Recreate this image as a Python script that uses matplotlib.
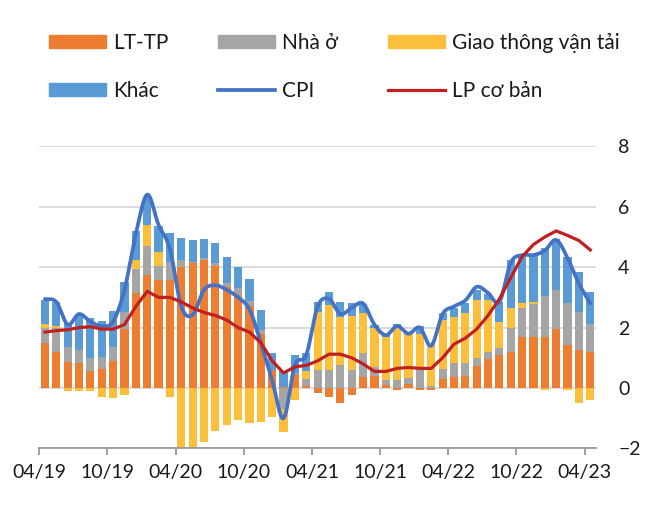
import numpy as np
import matplotlib
matplotlib.use('Agg')
import matplotlib.pyplot as plt
from matplotlib.patches import Patch
from matplotlib.lines import Line2D

plt.rcParams['font.family'] = ['Lato', 'Noto Sans', 'DejaVu Sans']

# monthly data 04/19 .. 04/23 (49 months), contributions to CPI (pp)
tick_labels = ['04/19', '10/19', '04/20', '10/20', '04/21',
               '10/21', '04/22', '10/22', '04/23']

lt_tp = [1.50, 1.18, 0.87, 0.82, 0.57, 0.62, 0.90, 1.97, 3.14, 3.75,
         3.56, 3.58, 4.00, 4.13, 4.24, 4.04, 3.36, 3.08, 2.70, 1.79,
         0.60, 0.05, 0.45, 0.07, -0.18, -0.31, -0.49, -0.23, 0.37, 0.40,
         0.10, -0.08, 0.13, -0.08, -0.08, 0.29, 0.35, 0.40, 0.73, 0.95,
         1.09, 1.18, 1.68, 1.68, 1.68, 1.96, 1.41, 1.26, 1.18]
nha_o = [0.50, 0.80, 0.50, 0.44, 0.41, 0.42, 0.47, 0.55, 0.80, 0.94,
         0.49, 0.60, 0.24, 0.05, 0.05, 0.10, 0.11, 0.22, 0.17, 0.13,
         0.00, -0.70, 0.05, 0.22, 0.60, 0.60, 0.76, 0.60, 0.80, 0.29,
         0.15, 0.28, 0.20, 0.60, 0.08, 0.33, 0.49, 0.42, 0.25, 0.23,
         0.22, 0.82, 0.96, 1.10, 1.35, 1.29, 1.41, 1.24, 0.94]
giao_thong = [0.13, 0.08, -0.10, -0.10, -0.10, -0.29, -0.32, -0.22, 0.31, 0.72,
              0.44, -0.28, -2.25, -2.50, -1.78, -1.41, -1.23, -1.06, -1.17, -1.12,
              -0.95, -0.75, -0.40, 0.29, 1.93, 2.15, 1.60, 1.77, 1.30, 1.29,
              1.45, 1.70, 1.45, 1.20, 1.40, 1.63, 1.52, 1.66, 1.93, 1.73,
              0.88, 0.66, 0.19, 0.08, -0.08, 0.00, -0.08, -0.49, -0.40]
khac = [0.77, 0.80, 0.77, 1.16, 1.33, 1.19, 1.19, 1.00, 0.94, 0.90,
        0.86, 0.95, 0.72, 0.72, 0.65, 0.65, 0.86, 0.70, 0.74, 0.66,
        0.55, 0.50, 0.60, 0.57, 0.33, 0.44, 0.50, 0.44, 0.30, 0.10,
        0.05, 0.15, 0.05, 0.25, 0.00, 0.22, 0.28, 0.35, 0.33, 0.20,
        0.66, 1.58, 1.58, 1.50, 1.60, 1.68, 1.50, 1.33, 1.07]
cpi = [2.95, 2.85, 2.10, 2.45, 2.20, 2.05, 2.20, 3.25, 5.10, 6.40,
       5.40, 4.60, 2.70, 2.42, 3.25, 3.40, 3.25, 3.00, 2.60, 1.50,
       0.25, -1.00, 0.75, 1.10, 2.70, 2.95, 2.45, 2.65, 2.80, 2.10,
       1.75, 2.05, 1.80, 2.00, 1.40, 2.45, 2.70, 2.90, 3.35, 3.15,
       2.85, 4.15, 4.40, 4.40, 4.55, 4.90, 4.30, 3.45, 2.80]
lp_co_ban = [1.85, 1.90, 1.93, 2.00, 2.03, 1.95, 1.95, 2.10, 2.70, 3.20,
             3.00, 3.00, 2.85, 2.65, 2.50, 2.40, 2.25, 2.00, 1.85, 1.50,
             0.90, 0.50, 0.70, 0.75, 0.90, 1.12, 1.12, 1.00, 0.80, 0.55,
             0.55, 0.65, 0.68, 0.65, 0.65, 1.00, 1.45, 1.65, 1.95, 2.40,
             2.95, 3.65, 4.35, 4.75, 5.00, 5.20, 5.05, 4.88, 4.57]

c_orange = '#ED7D31'
c_gray = '#A5A5A5'
c_yellow = '#FBBF3C'
c_blue = '#5B9BD5'
c_cpi = '#4472C4'
c_red = '#C0201E'


def smooth(xs, ys, k=16):
    # Catmull-Rom curve through the points (like Excel "smoothed line")
    xs = np.asarray(xs, float)
    ys = np.asarray(ys, float)
    px = np.concatenate([[2 * xs[0] - xs[1]], xs, [2 * xs[-1] - xs[-2]]])
    py = np.concatenate([[2 * ys[0] - ys[1]], ys, [2 * ys[-1] - ys[-2]]])
    t = np.linspace(0, 1, k, endpoint=False)[:, None]
    out = []
    for p in (px, py):
        p0, p1, p2, p3 = p[:-3], p[1:-2], p[2:-1], p[3:]
        seg = 0.5 * (2 * p1 + (-p0 + p2) * t + (2 * p0 - 5 * p1 + 4 * p2 - p3) * t ** 2
                     + (-p0 + 3 * p1 - 3 * p2 + p3) * t ** 3)
        out.append(np.append(seg.T.ravel(), p[-2]))
    return out


fig = plt.figure(figsize=(6.6, 5.21), dpi=100)
ax = fig.add_axes([0.0595, 0.1392, 0.8435, 0.580])

n = len(cpi)
x = np.arange(n)
pos = np.zeros(n)
neg = np.zeros(n)
for vals, col in [(lt_tp, c_orange), (nha_o, c_gray), (giao_thong, c_yellow), (khac, c_blue)]:
    v = np.array(vals)
    bottom = np.where(v >= 0, pos, neg)
    ax.bar(x, v, 0.72, bottom=bottom, color=col, zorder=2, linewidth=0)
    pos = pos + np.clip(v, 0, None)
    neg = neg + np.clip(v, None, 0)

sx, sy = smooth(x, cpi)
ax.plot(sx, sy, color=c_cpi, lw=2.7, zorder=3, solid_capstyle='round')
ax.plot(x, lp_co_ban, color=c_red, lw=2.3, zorder=4, solid_joinstyle='round')

ax.set_xlim(-0.5, n - 0.5)
ax.set_ylim(-2, 8)
ax.set_yticks(range(-2, 9, 2))
ax.yaxis.tick_right()
ax.yaxis.grid(True, color='#d9d9d9', lw=1.3)
ax.set_axisbelow(True)
ax.tick_params(axis='y', length=0, pad=16, labelsize=14, labelcolor='#1a1a1a')

ax.set_xticks(np.arange(0, n, 6) - 0.5)
ax.set_xticklabels(tick_labels)
ax.tick_params(axis='x', length=5, width=1.3, color='#999999', pad=6,
               labelsize=14, labelcolor='#1a1a1a')
for s in ['top', 'left', 'right']:
    ax.spines[s].set_visible(False)
ax.spines['bottom'].set_color('#999999')
ax.spines['bottom'].set_linewidth(1.3)

handles = [Patch(color=c_orange, label='LT-TP'),
           Patch(color=c_blue, label='Khác'),
           Patch(color=c_gray, label='Nhà ở'),
           Line2D([], [], color=c_cpi, lw=2.7, label='CPI'),
           Patch(color=c_yellow, label='Giao thông vận tải'),
           Line2D([], [], color=c_red, lw=2.3, label='LP cơ bản')]
fig.legend(handles=handles, ncol=3, loc='upper left',
           bbox_to_anchor=(48.6 / 660, 1 - 33 / 521), frameon=False,
           fontsize=15, handlelength=2.74, handleheight=0.55, handletextpad=0.34,
           columnspacing=2.4, labelspacing=1.35, borderpad=0, borderaxespad=0,
           labelcolor='#1a1a1a')

fig.savefig('out.png', dpi=100)
